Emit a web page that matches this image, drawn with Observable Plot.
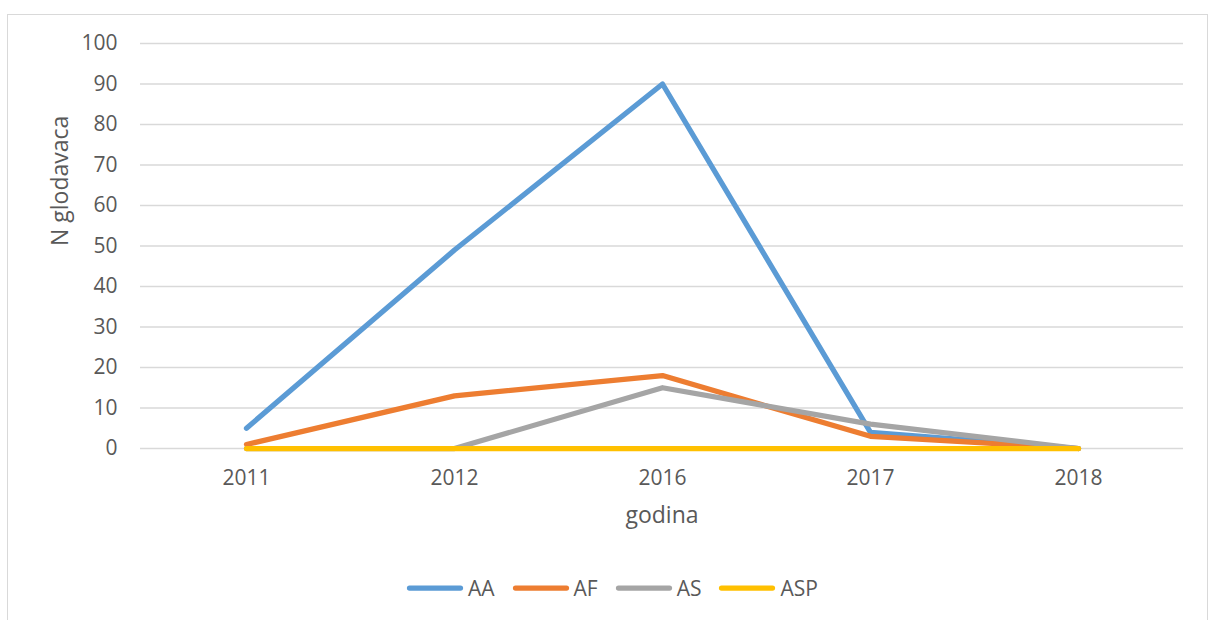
<!DOCTYPE html>
<html><head><meta charset="utf-8">
<script src="https://cdn.jsdelivr.net/npm/d3@7"></script>
<script src="https://cdn.jsdelivr.net/npm/@observablehq/plot@0.6"></script>
<style>
body{margin:0;background:#fff;overflow:hidden}
#wrap{position:relative;width:1209px;height:620px;font-family:"Open Sans",sans-serif;overflow:hidden}
#frame{position:absolute;left:7px;top:14px;width:1201px;height:640px;border:1px solid #d9d9d9;box-sizing:border-box}
#chart{position:absolute;left:0;top:0}
#legend{position:absolute;left:405px;top:574px;display:flex;align-items:center;gap:16px;font-size:21px;color:#595959}
#legend .item{display:flex;align-items:center;gap:3px}
</style></head><body>
<div id="wrap"><div id="frame"></div><div id="chart"></div><div id="legend"></div></div>
<script>
const years = ["2011", "2012", "2016", "2017", "2018"];
const seriesNames = ["AA", "AF", "AS", "ASP"];
const AA = [5, 49, 90, 4, 0];
const AF = [1, 13, 18, 3, 0];
const AS = [0, 0, 15, 6, 0];
const ASP = [0, 0, 0, 0, 0];
const colors = ["#5B9BD5", "#ED7D31", "#A5A5A5", "#FFC000"];
const yTicks = [0, 10, 20, 30, 40, 50, 60, 70, 80, 90, 100];
const xLabel = "godina";
const yLabel = "N glodavaca";

const seriesValues = [AA, AF, AS, ASP];
const rows = [];
seriesNames.forEach((s, i) => years.forEach((yr, j) => rows.push({series: s, year: yr, value: seriesValues[i][j]})));

const textColor = "#595959";
const chart = Plot.plot({
  width: 1209,
  height: 620,
  marginLeft: 140,
  marginRight: 26,
  marginTop: 43,
  marginBottom: 172,
  style: {fontFamily: "'Open Sans', sans-serif", fontSize: "21px", color: textColor, background: "transparent"},
  x: {type: "point", domain: years, padding: 0.5},
  y: {domain: [0, 100]},
  color: {domain: seriesNames, range: colors},
  marks: [
    Plot.gridY(yTicks, {stroke: "#d9d9d9", strokeOpacity: 1, strokeWidth: 1.5}),
    Plot.axisY(yTicks, {tickSize: 0, tickPadding: 23, label: null, fill: textColor, fontSize: 21}),
    Plot.axisX({tickSize: 0, tickPadding: 22, label: null, fill: textColor, fontSize: 21}),
    Plot.text([xLabel], {text: d => d, frameAnchor: "bottom", dy: 74, fill: textColor, fontSize: 23}),
    Plot.text([yLabel], {text: d => d, frameAnchor: "left", dx: -80, rotate: -90, fill: textColor, fontSize: 23}),
    Plot.lineY(rows, {x: "year", y: "value", z: "series", stroke: "series", strokeWidth: 5.25, strokeLinecap: "round", strokeLinejoin: "round"})
  ]
});
document.getElementById("chart").appendChild(chart);

const legend = document.getElementById("legend");
seriesNames.forEach((s, i) => {
  const item = document.createElement("div");
  item.className = "item";
  item.innerHTML = `<svg width="60" height="10"><line x1="4.5" y1="5" x2="55.5" y2="5" stroke="${colors[i]}" stroke-width="5.25" stroke-linecap="round"/></svg><span>${s}</span>`;
  legend.appendChild(item);
});
</script>
</body></html>
